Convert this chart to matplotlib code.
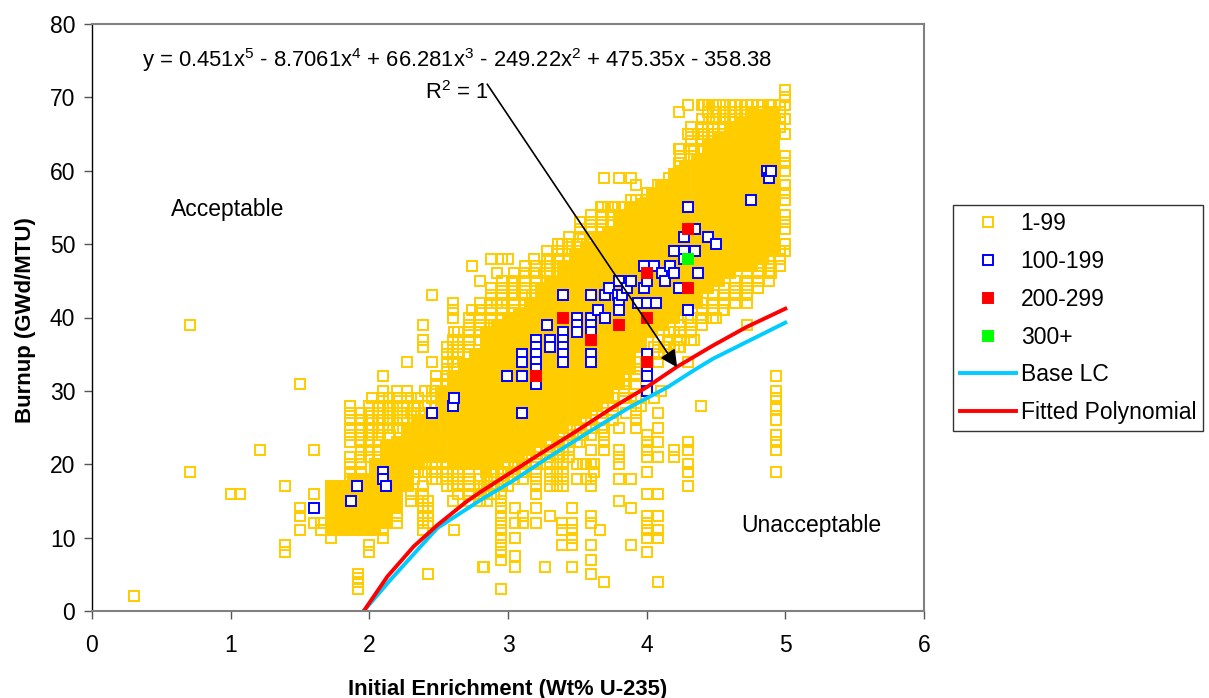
import numpy as np
import matplotlib
matplotlib.use('Agg')
import matplotlib.pyplot as plt

plt.rcParams['font.family'] = 'Liberation Sans'
plt.rcParams['mathtext.default'] = 'regular'

# 1-99: scattered open squares, one list of burnups per enrichment value
open_x = [0.3, 0.71, 1.0, 1.07, 1.21, 1.39, 1.5, 1.6, 1.65, 1.72, 1.86, 1.92, 1.94, 2.0, 2.02, 2.1, 2.15,
          2.2, 2.27, 2.3, 2.35, 2.39, 2.42, 2.45, 2.6, 2.61, 2.72, 2.74, 2.79, 2.8, 2.82, 2.83, 2.85, 2.88, 2.9,
          2.92, 2.95, 2.96, 3.0, 3.03, 3.05, 3.1, 3.11, 3.19, 3.2, 3.27, 3.3, 3.35, 3.39, 3.4, 3.46, 3.5,
          3.54, 3.56, 3.6, 3.62, 3.66, 3.67, 3.69, 3.72, 3.76, 3.77, 3.8, 3.82, 3.85, 3.89, 3.92, 3.96,
          4.0, 4.05, 4.08, 4.1, 4.14, 4.2, 4.22, 4.23, 4.3, 4.34, 4.39, 4.4, 4.41, 4.44, 4.45, 4.48, 4.5,
          4.55, 4.6, 4.64, 4.68, 4.72, 4.76, 4.8, 4.84, 4.88, 4.9, 4.93, 4.96, 5.0]
open_y = [[2], [19, 39], [16], [16], [22], [17, 9, 8], [31, 14, 13, 11], [22, 16, 12], [11, 12], [10, 17, 16],
          [28, 27, 26, 25, 24, 23, 21, 20, 19, 18], [5, 4.5, 4, 3], [27, 26, 25, 24, 23, 22, 21, 20, 19],
          [11, 9, 8, 28, 27, 26, 25, 24, 23, 22, 21], [29, 26, 25, 24], [32, 30, 29, 28, 27, 26, 25, 11, 10], [28, 27, 26, 24],
          [30, 29, 28, 27, 26, 25, 15, 14, 13, 12], [34, 30, 29, 28, 27, 26, 25, 24, 23, 22], [16, 15, 29, 27, 25, 22],
          [29, 28, 26, 25, 24, 23, 22, 21, 20, 19], [39, 37, 36, 17, 16, 15, 14, 13, 12, 11, 24, 23], [15, 14, 13, 12, 5],
          [43, 34, 30, 29, 25, 24, 23, 22, 21, 20, 19, 18], [42, 41, 40, 37, 36, 35, 34, 20, 19, 18, 17, 15], [11, 38, 33],
          [40, 39, 38, 19, 18], [47, 41], [18, 17, 16], [45, 41, 40, 39, 38], [6], [6, 17, 16], [15, 16, 17, 18], [48, 41, 40, 37],
          [16, 17, 18, 19, 39], [46, 42], [17, 16, 15, 14, 13, 12, 11, 10, 9, 8, 7, 3, 18, 19], [48, 45, 43, 42],
          [48, 17, 18, 19, 20, 21], [45, 44, 43], [14, 12, 10, 7.5, 6, 20], [43, 19, 20, 21], [13, 12, 18],
          [48, 46], [17, 18, 19, 20, 21, 22, 16, 14, 12], [6], [48, 47, 46, 45, 44, 17, 18, 19, 20, 21, 22, 23, 13],
          [17, 18, 19, 20, 21, 22, 23], [12, 11, 9, 50, 49], [17, 18, 19, 20, 21, 22, 23, 24], [14, 12, 11, 10, 9, 6],
          [50, 24, 25, 23, 20, 18], [51, 24, 20], [26, 25, 20, 18], [53, 52, 22, 20, 18, 17, 13, 12, 9, 7, 5], [20, 19], [11],
          [55, 54, 53, 52], [59, 25, 24, 23, 22, 4], [55], [27, 26], [55], [59, 25, 22, 21, 20, 18, 15], [55],
          [27], [56, 59, 18, 14, 9], [58, 29, 28, 27, 26, 25], [29, 28], [24, 23, 22, 21, 19, 16, 13, 12, 11, 10, 8, 30, 35],
          [57, 29, 36, 35], [27, 25, 23, 21, 16, 13, 11, 10, 4], [58, 30], [36], [59, 58, 38, 36, 22, 21], [37],
          [68, 63, 60, 61, 36], [69, 65, 40, 34, 23, 22, 20, 19, 17], [63, 62, 37], [40, 28], [42, 69, 64], [65, 69],
          [69, 68, 66, 65], [67, 69], [69, 68, 67, 66], [69, 68, 67, 40], [69, 68, 67, 41], [69, 68, 67, 66], [69, 68, 67],
          [69, 68], [69, 68, 67, 39, 42], [69, 68], [69, 44], [69, 68, 67], [69, 47], [47, 46, 69], [32, 30, 29, 28, 27.5, 26, 24, 23, 22, 19],
          [69, 67], [71, 70, 69, 67, 65, 62, 61, 60, 58, 57, 56, 54, 53, 52, 50, 49]]

# 1-99: open squares along the top and bottom edges of the cloud
fringe_x = [2.06, 2.14, 2.24, 2.32, 2.4, 2.48, 2.56, 2.64, 2.72, 2.8, 2.88, 2.96, 3.04, 3.12, 3.2, 3.28, 3.36, 3.44, 3.52,
            3.6, 3.68, 3.76, 3.84, 3.92, 4.0, 4.08, 4.16, 4.24, 4.32, 4.4, 4.48, 4.56, 4.64, 4.72, 4.8, 4.88, 4.96]
fringe_y = [[21, 22, 23, 24, 25, 26, 27, 28], [24, 25, 26, 27, 28, 29], [25, 26, 27, 28],
            [18, 19, 20, 21, 22, 23, 24, 25, 26, 27, 28], [19, 20, 21, 22, 23, 24, 25, 26, 27, 28, 30],
            [18, 19, 20, 28, 29, 30, 31, 32], [17, 18, 19, 20, 31, 32, 33, 34, 35, 36], [16, 17, 18, 19, 34, 35, 36, 37, 38],
            [15, 16, 17, 18, 19, 35, 36, 37, 38, 39], [15, 16, 17, 18, 37, 38, 39, 40, 41, 42],
            [16, 17, 18, 39, 40, 41, 42, 43, 44], [17, 18, 19, 40, 41, 42, 43, 44, 45], [18, 19, 20, 41, 42, 43, 44, 45, 46],
            [19, 20, 41, 42, 43, 44, 45, 46, 47], [19, 20, 21, 42, 43, 44, 45, 46, 47], [20, 21, 22, 45, 46, 47, 48, 49],
            [21, 22, 23, 46, 47, 48, 49, 50], [21, 22, 23, 24, 47, 48, 49, 50, 51], [23, 24, 25, 49, 50, 51, 52, 53],
            [24, 25, 26, 50, 51, 52, 53, 54], [25, 26, 27, 51, 52, 53, 54, 55], [27, 28, 29, 53, 54, 55],
            [29, 30, 31, 32, 54, 55], [31, 32, 33, 34, 55, 56], [32, 33, 34, 35, 56, 57], [34, 35, 36, 37, 57, 58],
            [35, 36, 37, 38, 58, 59], [36, 37, 38, 39, 60, 61, 62, 63], [37, 38, 39, 40, 62, 63, 64, 65, 66],
            [39, 40, 41, 63, 64, 65, 66, 67], [40, 41, 42, 43, 64, 65, 66, 67, 68], [41, 42, 43, 44, 65, 66, 67, 68],
            [42, 43, 44, 45, 66, 67, 68], [43, 44, 45, 46, 67, 68], [44, 45, 46, 47, 68], [45, 46, 47, 48, 69], [47, 48, 49, 66, 68]]

# 1-99: the heavily overlapped middle of the cloud, where the open squares merge into solid colour
core_x = [1.72, 1.8, 1.88, 1.96, 2.04, 2.12, 2.2, 2.28, 2.36, 2.44, 2.52, 2.6, 2.68, 2.76, 2.84, 2.92, 3.0, 3.08, 3.16, 3.24,
          3.32, 3.4, 3.48, 3.56, 3.64, 3.72, 3.8, 3.88, 3.96, 4.04, 4.12, 4.2, 4.28, 4.36, 4.44, 4.52, 4.6, 4.68, 4.76, 4.84, 4.92]
core_y = [[11, 12.5, 14, 15.5, 17], [11, 12.5, 14, 15.5, 17], [11, 12.5, 14, 15.5, 17, 18], [11, 12.5, 14, 15.5, 17, 18],
          [11, 12.5, 14, 15.5, 17, 18.5, 20], [12, 13.5, 15, 16.5, 18, 19.5, 21, 22.5], [14, 15.5, 17, 18.5, 20, 21.5, 23],
          [17, 18.5, 20, 21.5, 23, 24.5], [20, 21.5, 23, 24.5, 26], [21, 22.5, 24, 25.5, 27], [21, 22.5, 24, 25.5, 27, 28.5, 30],
          [20, 21.5, 23, 24.5, 26, 27.5, 29, 30.5, 32], [20, 21.5, 23, 24.5, 26, 27.5, 29, 30.5, 32, 33.5],
          [20, 21.5, 23, 24.5, 26, 27.5, 29, 30.5, 32, 33.5, 35], [19, 20.5, 22, 23.5, 25, 26.5, 28, 29.5, 31, 32.5, 34, 35.5, 37, 38],
          [20, 21.5, 23, 24.5, 26, 27.5, 29, 30.5, 32, 33.5, 35, 36.5, 38, 39], [21, 22.5, 24, 25.5, 27, 28.5, 30, 31.5, 33, 34.5, 36, 37.5, 39, 40],
          [21, 22.5, 24, 25.5, 27, 28.5, 30, 31.5, 33, 34.5, 36, 37.5, 39, 40.5], [22, 23.5, 25, 26.5, 28, 29.5, 31, 32.5, 34, 35.5, 37, 38.5, 40, 41.5],
          [23, 24.5, 26, 27.5, 29, 30.5, 32, 33.5, 35, 36.5, 38, 39.5, 41, 42.5, 44], [24, 25.5, 27, 28.5, 30, 31.5, 33, 34.5, 36, 37.5, 39, 40.5, 42, 43.5, 45],
          [25, 26.5, 28, 29.5, 31, 32.5, 34, 35.5, 37, 38.5, 40, 41.5, 43, 44.5, 46, 47], [26, 27.5, 29, 30.5, 32, 33.5, 35, 36.5, 38, 39.5, 41, 42.5, 44, 45.5, 47, 48.5],
          [27, 28.5, 30, 31.5, 33, 34.5, 36, 37.5, 39, 40.5, 42, 43.5, 45, 46.5, 48, 49.5], [28, 29.5, 31, 32.5, 34, 35.5, 37, 38.5, 40, 41.5, 43, 44.5, 46, 47.5, 49, 50.5],
          [29, 30.5, 32, 33.5, 35, 36.5, 38, 39.5, 41, 42.5, 44, 45.5, 47, 48.5, 50, 51.5], [31, 32.5, 34, 35.5, 37, 38.5, 40, 41.5, 43, 44.5, 46, 47.5, 49, 50.5, 52, 53.5],
          [33, 34.5, 36, 37.5, 39, 40.5, 42, 43.5, 45, 46.5, 48, 49.5, 51, 52.5, 54, 55], [36, 37.5, 39, 40.5, 42, 43.5, 45, 46.5, 48, 49.5, 51, 52.5, 54, 55.5],
          [38, 39.5, 41, 42.5, 44, 45.5, 47, 48.5, 50, 51.5, 53, 54.5, 56, 57], [39, 40.5, 42, 43.5, 45, 46.5, 48, 49.5, 51, 52.5, 54, 55.5, 57, 58],
          [40, 41.5, 43, 44.5, 46, 47.5, 49, 50.5, 52, 53.5, 55, 56.5, 58, 59.5], [41, 42.5, 44, 45.5, 47, 48.5, 50, 51.5, 53, 54.5, 56, 57.5, 59, 60.5],
          [42, 43.5, 45, 46.5, 48, 49.5, 51, 52.5, 54, 55.5, 57, 58.5, 60, 61.5], [44, 45.5, 47, 48.5, 50, 51.5, 53, 54.5, 56, 57.5, 59, 60.5, 62, 63.5],
          [45, 46.5, 48, 49.5, 51, 52.5, 54, 55.5, 57, 58.5, 60, 61.5, 63, 64.5], [46, 47.5, 49, 50.5, 52, 53.5, 55, 56.5, 58, 59.5, 61, 62.5, 64, 65.5],
          [47, 48.5, 50, 51.5, 53, 54.5, 56, 57.5, 59, 60.5, 62, 63.5, 65, 66.5], [47, 48.5, 50, 51.5, 53, 54.5, 56, 57.5, 59, 60.5, 62, 63.5, 65, 66.5, 68],
          [48, 49.5, 51, 52.5, 54, 55.5, 57, 58.5, 60, 61.5, 63, 64.5, 66, 67.5], [49, 50.5, 52, 53.5, 55, 56.5, 58, 59.5, 61, 62.5, 64, 65.5, 67, 68]]

# 100-199
blue_x = [1.6, 1.87, 1.91, 2.1, 2.1, 2.12, 2.45, 2.6, 2.61, 2.99, 3.1, 3.1, 3.1, 3.1, 3.2, 3.2, 3.2, 3.2, 3.2, 3.2, 3.28,
          3.3, 3.3, 3.4, 3.4, 3.4, 3.4, 3.4, 3.4, 3.5, 3.5, 3.5, 3.6, 3.6, 3.6, 3.6, 3.6, 3.6, 3.65, 3.7, 3.7, 3.73, 3.79,
          3.8, 3.8, 3.8, 3.82, 3.86, 3.89, 3.94, 3.98, 3.98, 4.0, 4.0, 4.0, 4.0, 4.0, 4.0, 4.05, 4.07, 4.11, 4.13, 4.17,
          4.2, 4.2, 4.23, 4.27, 4.27, 4.27, 4.3, 4.3, 4.35, 4.35, 4.37, 4.44, 4.5, 4.75, 4.87, 4.88, 4.9]
blue_y = [14, 15, 17, 19, 18, 17, 27, 28, 29, 32, 35, 34, 32, 27, 37, 36, 35, 34, 33, 31, 39,
          37, 36, 43, 38, 37, 36, 35, 34, 40, 39, 38, 43, 40, 39, 38, 35, 34, 41, 43, 40, 44, 43,
          45, 42, 41, 43, 44, 45, 42, 47, 44, 45, 42, 35, 33, 32, 30, 47, 42, 46, 45, 47,
          49, 46, 44, 51, 49, 48, 55, 41, 52, 49, 46, 51, 50, 56, 60, 59, 60]

# 200-299
red_x = [3.2, 3.4, 3.6, 3.8, 4.0, 4.0, 4.0, 4.3, 4.3]
red_y = [32, 40, 37, 39, 34, 40, 46, 44, 52]

# 300+
green_x = [4.3]
green_y = [48]

base_lc_x = [1.96, 2.15, 2.49, 2.8, 3.04, 3.28, 3.6, 3.88, 4.15, 4.34, 4.48, 5.0]
base_lc_y = [0, 4.2, 11.3, 15.1, 17.8, 20.8, 24.6, 27.8, 30.5, 32.8, 34.4, 39.3]

fitted_x = [1.96, 2.13, 2.32, 2.49, 2.7, 2.8, 2.99, 3.23, 3.5, 3.76, 4.0, 4.22, 4.48, 4.72, 5.0]
fitted_y = [0, 4.7, 8.8, 11.7, 14.9, 16.2, 18.5, 21.4, 24.6, 27.8, 30.5, 33.3, 36.2, 38.7, 41.2]

W, H = 1209, 698
fig = plt.figure(figsize=(W / 100, H / 100), dpi=100)
ax = fig.add_axes([92 / W, 1 - 611 / H, 832 / W, 587 / H])

yellow = '#FFCC00'
blue = '#0000FF'
size = 7.8
edge = 1.4

all_x = open_x + fringe_x
all_y = open_y + fringe_y
xs = np.concatenate([np.full(len(v), x) for x, v in zip(all_x, all_y)])
ys = np.concatenate([np.array(v, dtype=float) for v in all_y])
cx = np.concatenate([np.full(len(v), x) for x, v in zip(core_x, core_y)])
cy = np.concatenate([np.array(v, dtype=float) for v in core_y])

ax.plot(xs, ys, ls='none', marker='s', ms=size, mew=edge, mec=yellow, mfc='none', label='1-99')
ax.plot(cx, cy, ls='none', marker='s', ms=size, mew=edge, mec=yellow, mfc=yellow)
ax.plot(blue_x, blue_y, ls='none', marker='s', ms=size, mew=edge, mec=blue, mfc='white', label='100-199')
ax.plot(red_x, red_y, ls='none', marker='s', ms=size, mew=edge, mec='#FF0000', mfc='#FF0000', label='200-299')
ax.plot(green_x, green_y, ls='none', marker='s', ms=size, mew=edge, mec='#00FF00', mfc='#00FF00', label='300+')
ax.plot(base_lc_x, base_lc_y, color='#00CCFF', lw=2.8, label='Base LC')
ax.plot(fitted_x, fitted_y, color='#FF0000', lw=2.8, label='Fitted Polynomial')

ax.set_xlim(0, 6)
ax.set_ylim(0, 80)
ax.set_xticks(range(0, 7))
ax.set_yticks(range(0, 81, 10))
ax.tick_params(labelsize=16.5, length=5.5, width=1, color='#555555', pad=6.5)
ax.tick_params(axis='x', pad=11)
for side in ['top', 'right', 'bottom']:
    ax.spines[side].set_color('#808080')
    ax.spines[side].set_linewidth(1.5)
ax.spines['left'].set_color('black')
ax.spines['left'].set_linewidth(1)

ax.set_xlabel('Initial Enrichment (Wt% U-235)', fontsize=15.8, fontweight='bold', labelpad=16)
ax.set_ylabel('Burnup (GWd/MTU)', fontsize=16, fontweight='bold', labelpad=10, y=0.495)

ax.text(0.364, 75.1, 'y = 0.451x$^{5}$ - 8.7061x$^{4}$ + 66.281x$^{3}$ - 249.22x$^{2}$ + 475.35x - 358.38',
        fontsize=15.8, va='center')
ax.text(2.40, 70.6, 'R$^{2}$ = 1', fontsize=15.8, va='center')
ax.text(0.566, 54.7, 'Acceptable', fontsize=16.5, va='center')
ax.text(4.68, 11.6, 'Unacceptable', fontsize=16.5, va='center')
ax.annotate('', xy=(4.22, 33.2), xytext=(2.85, 71.8),
            arrowprops=dict(arrowstyle='-|>', color='black', lw=1.2, mutation_scale=26, shrinkA=0, shrinkB=0))

ax.legend(loc='upper left', bbox_to_anchor=(953 / W, 1 - 205 / H), bbox_transform=fig.transFigure,
          fontsize=16.5, frameon=True, fancybox=False, framealpha=1, edgecolor='#333333',
          borderaxespad=0, borderpad=0.3, labelspacing=0.65, handlelength=2.45, handletextpad=0.2, numpoints=1)

plt.savefig('out.png', dpi=100)
plt.close()
